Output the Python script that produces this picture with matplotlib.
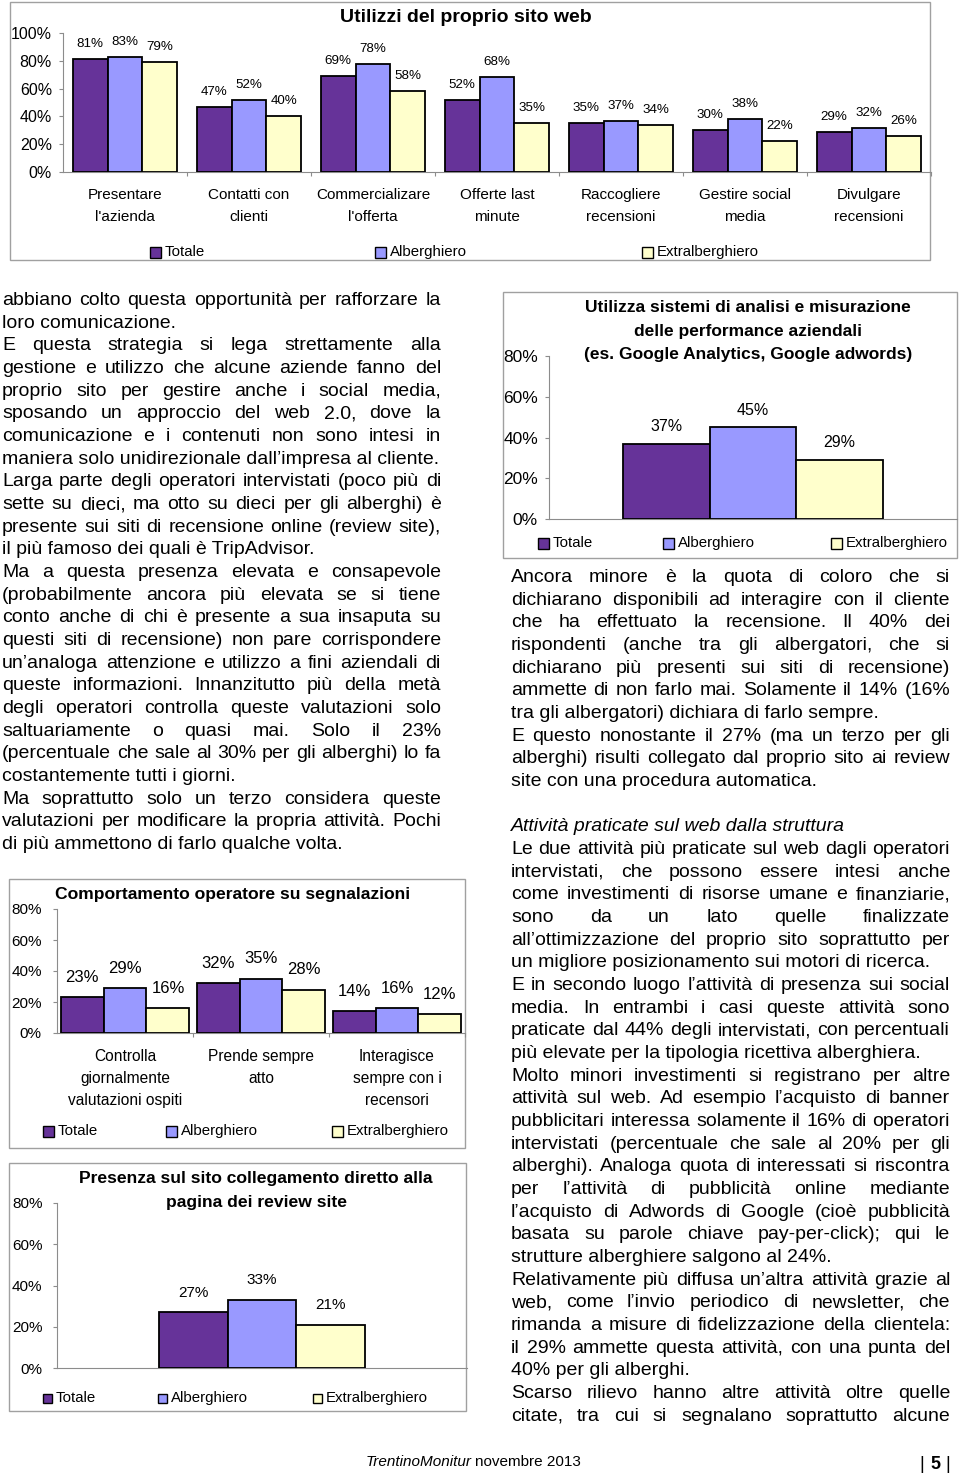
import matplotlib
matplotlib.use('Agg')
import matplotlib.pyplot as plt
from matplotlib.patches import Rectangle
import numpy as np

plt.rcParams['font.family'] = ['Liberation Sans', 'DejaVu Sans']

W, H = 960, 1478
series = ['Totale', 'Alberghiero', 'Extralberghiero']
colors = ['#663399', '#9999ff', '#ffffcc']
GRAY = '#8c8c8c'

# --- chart data ---
uso_cat = ["Presentare\nl'azienda", "Contatti con\nclienti", "Commercializare\nl'offerta",
           "Offerte last\nminute", "Raccogliere\nrecensioni", "Gestire social\nmedia",
           "Divulgare\nrecensioni"]
uso_tot = [81, 47, 69, 52, 35, 30, 29]
uso_alb = [83, 52, 78, 68, 37, 38, 32]
uso_ext = [79, 40, 58, 35, 34, 22, 26]

analisi = [37, 45, 29]

comp_cat = ["Controlla\ngiornalmente\nvalutazioni ospiti", "Prende sempre\natto",
            "Interagisce\nsempre con i\nrecensori"]
comp_tot = [23, 32, 14]
comp_alb = [29, 35, 16]
comp_ext = [16, 28, 12]

link = [27, 33, 21]

# --- body text ---
left_pars = [
    ["abbiano colto questa opportunità per rafforzare la",
     "loro comunicazione."],
    ["E questa strategia si lega strettamente alla",
     "gestione e utilizzo che alcune aziende fanno del",
     "proprio sito per gestire anche i social media,",
     "sposando un approccio del web 2.0, dove la",
     "comunicazione e i contenuti non sono intesi in",
     "maniera solo unidirezionale dall’impresa al cliente."],
    ["Larga parte degli operatori intervistati (poco più di",
     "sette su dieci, ma otto su dieci per gli alberghi) è",
     "presente sui siti di recensione online (review site),",
     "il più famoso dei quali è TripAdvisor."],
    ["Ma a questa presenza elevata e consapevole",
     "(probabilmente ancora più elevata se si tiene",
     "conto anche di chi è presente a sua insaputa su",
     "questi siti di recensione) non pare corrispondere",
     "un’analoga attenzione e utilizzo a fini aziendali di",
     "queste informazioni. Innanzitutto più della metà",
     "degli operatori controlla queste valutazioni solo",
     "saltuariamente o quasi mai. Solo il 23%",
     "(percentuale che sale al 30% per gli alberghi) lo fa",
     "costantemente tutti i giorni."],
    ["Ma soprattutto solo un terzo considera queste",
     "valutazioni per modificare la propria attività. Pochi",
     "di più ammettono di farlo qualche volta."],
]

right_top = [
    ["Ancora minore è la quota di coloro che si",
     "dichiarano disponibili ad interagire con il cliente",
     "che ha effettuato la recensione. Il 40% dei",
     "rispondenti (anche tra gli albergatori, che si",
     "dichiarano più presenti sui siti di recensione)",
     "ammette di non farlo mai. Solamente il 14% (16%",
     "tra gli albergatori) dichiara di farlo sempre."],
    ["E questo nonostante il 27% (ma un terzo per gli",
     "alberghi) risulti collegato dal proprio sito ai review",
     "site con una procedura automatica."],
]
right_head = "Attività praticate sul web dalla struttura"
right_pars = [
    ["Le due attività più praticate sul web dagli operatori",
     "intervistati, che possono essere intesi anche",
     "come investimenti di risorse umane e finanziarie,",
     "sono da un lato quelle finalizzate",
     "all’ottimizzazione del proprio sito soprattutto per",
     "un migliore posizionamento sui motori di ricerca."],
    ["E in secondo luogo l’attività di presenza sui social",
     "media. In entrambi i casi queste attività sono",
     "praticate dal 44% degli intervistati, con percentuali",
     "più elevate per la tipologia ricettiva alberghiera."],
    ["Molto minori investimenti si registrano per altre",
     "attività sul web. Ad esempio l’acquisto di banner",
     "pubblicitari interessa solamente il 16% di operatori",
     "intervistati (percentuale che sale al 20% per gli",
     "alberghi). Analoga quota di interessati si riscontra",
     "per l’attività di pubblicità online mediante",
     "l’acquisto di Adwords di Google (cioè pubblicità",
     "basata su parole chiave pay-per-click); qui le",
     "strutture alberghiere salgono al 24%."],
    ["Relativamente più diffusa un’altra attività grazie al",
     "web, come l’invio periodico di newsletter, che",
     "rimanda a misure di fidelizzazione della clientela:",
     "il 29% ammette questa attività, con una punta del",
     "40% per gli alberghi."],
    ["Scarso rilievo hanno altre attività oltre quelle",
     "citate, tra cui si segnalano soprattutto alcune"],
]

fig = plt.figure(figsize=(W / 100, H / 100), dpi=100, facecolor='white')
bg = fig.add_axes([0, 0, 1, 1])
bg.set_xlim(0, W)
bg.set_ylim(H, 0)
bg.axis('off')
renderer = fig.canvas.get_renderer()


def px(x0, y0, x1, y1):
    return [x0 / W, 1 - y1 / H, (x1 - x0) / W, (y1 - y0) / H]


def frame(x0, y0, x1, y1):
    bg.add_patch(Rectangle((x0, y0), x1 - x0, y1 - y0, fill=False,
                           edgecolor='#a0a0a0', linewidth=1.0))


def legend(y, xs, size=10.8, sq=10):
    for x, name, c in zip(xs, series, colors):
        bg.add_patch(Rectangle((x, y - sq / 2), sq, sq, facecolor=c,
                               edgecolor='black', linewidth=1.0))
        bg.text(x + sq + 4, y, name, fontsize=size, va='center', ha='left')


def bar_chart(rect, vals, width, ymax, tick_fs, tick_pad, lab_fs, lab_off,
              cats=None, cat_off=17, cat_fs=11.2, cat_ls=1.6):
    ax = fig.add_axes(px(*rect))
    ax.patch.set_alpha(0)
    n = len(vals[0])
    x = np.arange(n)
    for k, (v, c) in enumerate(zip(vals, colors)):
        pos = x + (k - 1) * width
        ax.bar(pos, np.array(v) / 100, width, color=c, edgecolor='black',
               linewidth=1.3, zorder=3)
        for p, val in zip(pos, v):
            ax.annotate(f'{val}%', (p, val / 100), xytext=(0, lab_off * 0.72),
                        textcoords='offset points', ha='center', va='center',
                        fontsize=lab_fs)
    ax.set_xlim(-0.5, n - 0.5)
    ax.set_ylim(0, ymax)
    yt = np.arange(0, ymax + 0.001, 0.2)
    ax.set_yticks(yt)
    ax.set_yticklabels([f'{int(round(t * 100))}%' for t in yt])
    ax.tick_params(axis='y', length=3, width=0.8, color=GRAY,
                   labelsize=tick_fs, pad=tick_pad)
    ax.set_xticks([])
    if n > 1:
        ax.set_xticks(np.arange(0.5, n, 1), minor=True)
        ax.tick_params(axis='x', which='minor', length=3, width=0.8, color=GRAY)
    for s in ('top', 'right'):
        ax.spines[s].set_visible(False)
    for s in ('left', 'bottom'):
        ax.spines[s].set_color(GRAY)
        ax.spines[s].set_linewidth(0.8)
    if cats:
        for i, cat in enumerate(cats):
            ax.annotate(cat, xy=(i, 0), xycoords=('data', 'axes fraction'),
                        xytext=(0, -cat_off * 0.72), textcoords='offset points',
                        ha='center', va='top', fontsize=cat_fs, linespacing=cat_ls)
    return ax


# chart 1: Utilizzi del proprio sito web
frame(10, 2, 930, 260)
bg.text(466, 17, 'Utilizzi del proprio sito web', fontsize=14, fontweight='bold',
        ha='center', va='center')
bar_chart((63, 33, 931, 172), [uso_tot, uso_alb, uso_ext], 0.28, 1.0,
          11.5, 5, 9.6, 15, cats=uso_cat, cat_off=16, cat_fs=11, cat_ls=1.77)
legend(252, [150, 375, 642], size=10.8, sq=11)

# chart 2: analisi performance
frame(503, 292, 957, 558)
for i, t in enumerate(['Utilizza sistemi di analisi e misurazione',
                       'delle performance aziendali',
                       '(es. Google Analytics, Google adwords)']):
    bg.text(748, 308 + i * 23.5, t, fontsize=12.5, fontweight='bold',
            ha='center', va='center')
bar_chart((549, 356, 957, 519), [[analisi[0]], [analisi[1]], [analisi[2]]],
          0.212, 0.8, 12.5, 5, 11.5, 17)
legend(543, [538, 663, 831], size=10.8, sq=11)

# chart 3: comportamento operatore
frame(9, 879, 465, 1148)
bg.text(233, 895, 'Comportamento operatore su segnalazioni', fontsize=12.6,
        fontweight='bold', ha='center', va='center')
bar_chart((57, 909, 465, 1033), [comp_tot, comp_alb, comp_ext], 0.316, 0.8,
          11, 8, 12, 20, cats=comp_cat, cat_off=16, cat_fs=11.2, cat_ls=1.6)
legend(1131, [43, 166, 332], size=10.8, sq=11)

# chart 4: collegamento review site
frame(9, 1163, 466, 1411)
for i, t in enumerate(['Presenza sul sito collegamento diretto alla',
                       'pagina dei review site']):
    bg.text(256, 1179 + i * 24, t, fontsize=12.6, fontweight='bold',
            ha='center', va='center')
bar_chart((57, 1203, 467, 1368), [[link[0]], [link[1]], [link[2]]],
          0.168, 0.8, 11, 7.5, 11, 19.5)
legend(1398, [43, 158, 313], size=10.8, sq=9)

# --- body text ---
FS = 14
STEP = 22.67


def put_line(x0, x1, y, s, justify, style='normal'):
    if not justify:
        bg.text(x0, y, s, fontsize=FS, va='baseline', ha='left', style=style)
        return
    words = s.split(' ')
    arts = [bg.text(0, y, w, fontsize=FS, va='baseline', ha='left') for w in words]
    widths = [a.get_window_extent(renderer).width for a in arts]
    gap = (x1 - x0 - sum(widths)) / max(len(words) - 1, 1)
    xx = x0
    for a, w in zip(arts, widths):
        a.set_x(xx)
        xx += w + gap


def put_pars(x0, x1, y, pars, open_end=False):
    for pi, par in enumerate(pars):
        for li, line in enumerate(par):
            last = li == len(par) - 1
            just = (not last) or (open_end and pi == len(pars) - 1)
            put_line(x0, x1, y, line, just)
            y += STEP
    return y


put_pars(2, 441, 305, left_pars)
y = put_pars(511, 950, 582, right_top)
y += STEP
put_line(511, 950, y, right_head, False, style='italic')
y += STEP
put_pars(511, 950, y, right_pars, open_end=True)

# footer
t1 = bg.text(366, 1466, 'TrentinoMonitur', fontsize=11, style='italic',
             va='baseline', ha='left')
w1 = t1.get_window_extent(renderer).width
bg.text(366 + w1 + 3, 1466, 'novembre 2013', fontsize=11, va='baseline', ha='left')
bg.text(922, 1469, '|', fontsize=13, va='baseline', ha='center')
bg.text(935, 1469, '5', fontsize=13, fontweight='bold', va='baseline', ha='center')
bg.text(948, 1469, '|', fontsize=13, va='baseline', ha='center')

fig.savefig('out.png', dpi=100, facecolor='white')
